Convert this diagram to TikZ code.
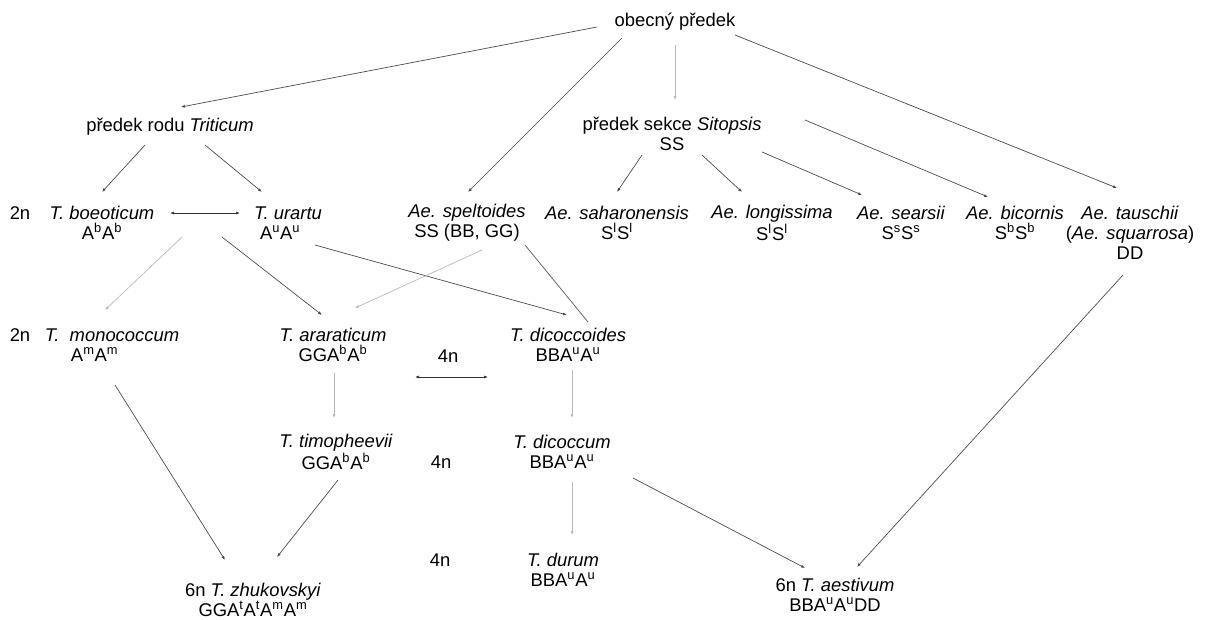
\documentclass[tikz,border=0pt]{standalone}
\usepackage{fontspec}
\setmainfont{Liberation Sans}
\usetikzlibrary{arrows.meta,calc}
\begin{document}
\begin{tikzpicture}[x=0.75pt,y=-0.75pt,
  lab/.style={inner sep=0pt,font=\fontsize{13.8}{15}\selectfont,align=center},
  tipA/.tip={Latex[length=3pt,width=2.2pt]},
  dk/.style={draw=black!72,line width=0.5pt,-tipA},
  lt/.style={draw=black!28,line width=0.5pt,-tipA},
  dbl/.style={draw=black!80,line width=0.5pt,tipA-tipA},
  plain/.style={draw=black!60,line width=0.6pt}]
\fill[white] (0,0) rectangle (1205,619);
\useasboundingbox (0,0) rectangle (1205,619);
% nodes
\node[lab] (ob) at (675,22) {obecný předek};
\node[lab] (trit) at (170,127) {předek rodu \textit{Triticum}};
\node[lab] (sit) at (672,134) {předek sekce \textit{Sitopsis}\\SS};
\node[lab] (n2a) at (20,213) {2n};
\node[lab] (boeo) at (102,223) {\textit{T. boeoticum}\\A\textsuperscript{b}A\textsuperscript{b}};
\node[lab,align=left] (urar) at (288,223) {\textit{T. urartu}\\\hspace*{4.5pt}A\textsuperscript{u}A\textsuperscript{u}};
\node[lab] (spel) at (467,223) {\textit{Ae. speltoides}\\SS (BB, GG)};
\node[lab] (saha) at (617,223) {\textit{Ae. saharonensis}\\S\textsuperscript{l}S\textsuperscript{l}};
\node[lab] (long) at (772,223) {\textit{Ae. longissima}\\S\textsuperscript{l}S\textsuperscript{l}};
\node[lab] (sear) at (901,223) {\textit{Ae. searsii}\\S\textsuperscript{s}S\textsuperscript{s}};
\node[lab] (bico) at (1015,223) {\textit{Ae. bicornis}\\S\textsuperscript{b}S\textsuperscript{b}};
\node[lab] (taus) at (1130,233) {\textit{Ae. tauschii}\\(\textit{Ae. squarrosa})\\DD};
\node[lab] (n2b) at (20,335) {2n};
\node[lab] (mono) at (112,345) {\textit{T.~~monococcum}\\\hspace*{-26pt}A\textsuperscript{m}A\textsuperscript{m}};
\node[lab] (arar) at (333,345) {\textit{T. araraticum}\\GGA\textsuperscript{b}A\textsuperscript{b}};
\node[lab] (n4a) at (448,356) {4n};
\node[lab] (dicd) at (568,345) {\textit{T. dicoccoides}\\BBA\textsuperscript{u}A\textsuperscript{u}};
\node[lab] (timo) at (336,452) {\textit{T. timopheevii}\\GGA\textsuperscript{b}A\textsuperscript{b}};
\node[lab] (n4b) at (441,462) {4n};
\node[lab] (dicm) at (562,452) {\textit{T. dicoccum}\\BBA\textsuperscript{u}A\textsuperscript{u}};
\node[lab] (n4c) at (440,560) {4n};
\node[lab] (duru) at (563,570) {\textit{T. durum}\\BBA\textsuperscript{u}A\textsuperscript{u}};
\node[lab] (zhuk) at (253,600) {6n \textit{T. zhukovskyi}\\GGA\textsuperscript{t}A\textsuperscript{t}A\textsuperscript{m}A\textsuperscript{m}};
\node[lab] (aest) at (835,595) {6n \textit{T. aestivum}\\BBA\textsuperscript{u}A\textsuperscript{u}DD};
% connectors
\draw[dk] ($(ob)+(-78,5)$) -- ($(trit)+(11,-20)$);
\draw[dk] ($(ob)+(-53,16)$) -- ($(spel)+(1,-31)$);
\draw[lt] ($(ob)+(0,23)$) -- ($(sit)+(3,-34)$);
\draw[dk] ($(ob)+(60,13)$) -- ($(taus)+(-13,-45)$);
\draw[dk] ($(trit)+(-25,18)$) -- ($(boeo)+(0,-31)$);
\draw[dk] ($(trit)+(35,18)$) -- ($(urar)+(-26,-31)$);
\draw[dk] ($(sit)+(-30,21)$) -- ($(saha)+(0,-31)$);
\draw[dk] ($(sit)+(30,21)$) -- ($(long)+(-30,-31)$);
\draw[dk] ($(sit)+(90,18)$) -- ($(sear)+(-39,-28)$);
\draw[dk] ($(sit)+(133,-14)$) -- ($(bico)+(-27,-26)$);
\draw[dbl] ($(boeo)+(68,-10)$) -- ($(urar)+(-48,-10)$);
\draw[lt] ($(boeo)+(80,14)$) -- ($(mono)+(-7,-35)$);
\draw[dk] ($(boeo)+(120,14)$) -- ($(arar)+(-11,-30)$);
\draw[dk] ($(urar)+(27,22)$) -- ($(dicd)+(-1,-30)$);
\draw[lt] ($(spel)+(15,27)$) -- ($(arar)+(22,-37)$);
\draw[plain] ($(spel)+(58,22)$) -- ($(dicd)+(20,-23)$);
\draw[dk] ($(mono)+(3,40)$) -- ($(zhuk)+(-28,-40)$);
\draw[lt] ($(arar)+(1,28)$) -- ($(timo)+(-2,-34)$);
\draw[dbl] ($(arar)+(82,32)$) -- ($(dicd)+(-80,32)$);
\draw[lt] ($(dicd)+(4,25)$) -- ($(dicm)+(10,-34)$);
\draw[dk] ($(timo)+(2,28)$) -- ($(zhuk)+(24,-43)$);
\draw[lt] ($(dicm)+(10,30)$) -- ($(duru)+(9,-35)$);
\draw[dk] ($(dicm)+(71,26)$) -- ($(aest)+(-30,-27)$);
\draw[dk] ($(taus)+(-7,42)$) -- ($(aest)+(22,-28)$);
\end{tikzpicture}
\end{document}
